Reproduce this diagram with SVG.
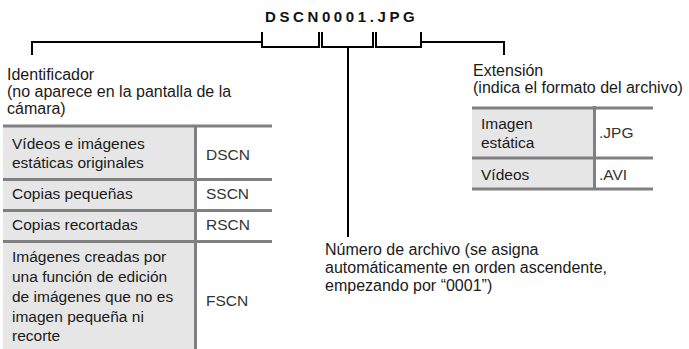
<svg xmlns="http://www.w3.org/2000/svg" width="689" height="349" viewBox="0 0 689 349">
<style>
.t{font-family:"Liberation Sans",Arial,sans-serif;font-size:16px;fill:#1a1a1a}
.c{font-family:"Liberation Sans",Arial,sans-serif;font-size:15.5px;fill:#1a1a1a}
.v{font-family:"Liberation Sans",Arial,sans-serif;font-size:15.5px;fill:#333}
.title{font-family:"Liberation Sans",Arial,sans-serif;font-size:15px;font-weight:bold;letter-spacing:3.6px;fill:#111}
.br{fill:none;stroke:#000;stroke-width:2}
.bd{stroke:#808080;stroke-width:3;fill:none}
.fill{fill:#e6e6e6}
</style>
<rect width="689" height="349" fill="#fff"/>
<g id="title"><text class="title" x="265" y="22">DSCN0001.JPG</text></g>
<g id="connectors">
<path class="br" d="M32,55 V42 H262"/>
<path class="br" d="M262,32 V47 H319 V32"/>
<path class="br" d="M322,32 V47 H373 V32"/>
<path class="br" d="M376,32 V47 H421 V32"/>
<path class="br" d="M421,42 H504 V55"/>
<path class="br" d="M348,47 V237"/>
</g>
<g id="identificador">
<text class="t" x="7" y="80">Identificador</text>
<text class="t" x="7" y="97">(no aparece en la pantalla de la</text>
<text class="t" x="7" y="114">cámara)</text>
</g>
<g id="extension">
<text class="t" x="473" y="76">Extensión</text>
<text class="t" x="473" y="93">(indica el formato del archivo)</text>
</g>
<g id="numero">
<text class="t" x="325" y="255">Número de archivo (se asigna</text>
<text class="t" x="325" y="273">automáticamente en orden ascendente,</text>
<text class="t" x="325" y="291">empezando por “0001”)</text>
</g>
<g id="tabla-identificador">
<rect class="fill" x="3" y="126" width="192" height="223"/>
<path class="bd" d="M3,126 H272 M3,179.5 H272 M3,210.5 H272 M3,241.5 H272 M195.5,126 V349"/>
<text class="c" x="12" y="149">Vídeos e imágenes</text>
<text class="c" x="12" y="168">estáticas originales</text>
<text class="v" x="206" y="160">DSCN</text>
<text class="c" x="12" y="199">Copias pequeñas</text>
<text class="v" x="206" y="199">SSCN</text>
<text class="c" x="12" y="230">Copias recortadas</text>
<text class="v" x="206" y="230">RSCN</text>
<text class="c" x="12" y="262">Imágenes creadas por</text>
<text class="c" x="12" y="282">una función de edición</text>
<text class="c" x="12" y="302">de imágenes que no es</text>
<text class="c" x="12" y="322">imagen pequeña ni</text>
<text class="c" x="12" y="341">recorte</text>
<text class="v" x="206" y="306">FSCN</text>
</g>
<g id="tabla-extension">
<rect class="fill" x="472" y="108" width="122" height="81"/>
<path class="bd" d="M472,108 H653 M472,158 H653 M472,189 H653 M594.5,106 V189"/>
<text class="c" x="481" y="129">Imagen</text>
<text class="c" x="481" y="148">estática</text>
<text class="v" x="599" y="138">.JPG</text>
<text class="c" x="481" y="180">Vídeos</text>
<text class="v" x="599" y="180">.AVI</text>
</g>
</svg>
